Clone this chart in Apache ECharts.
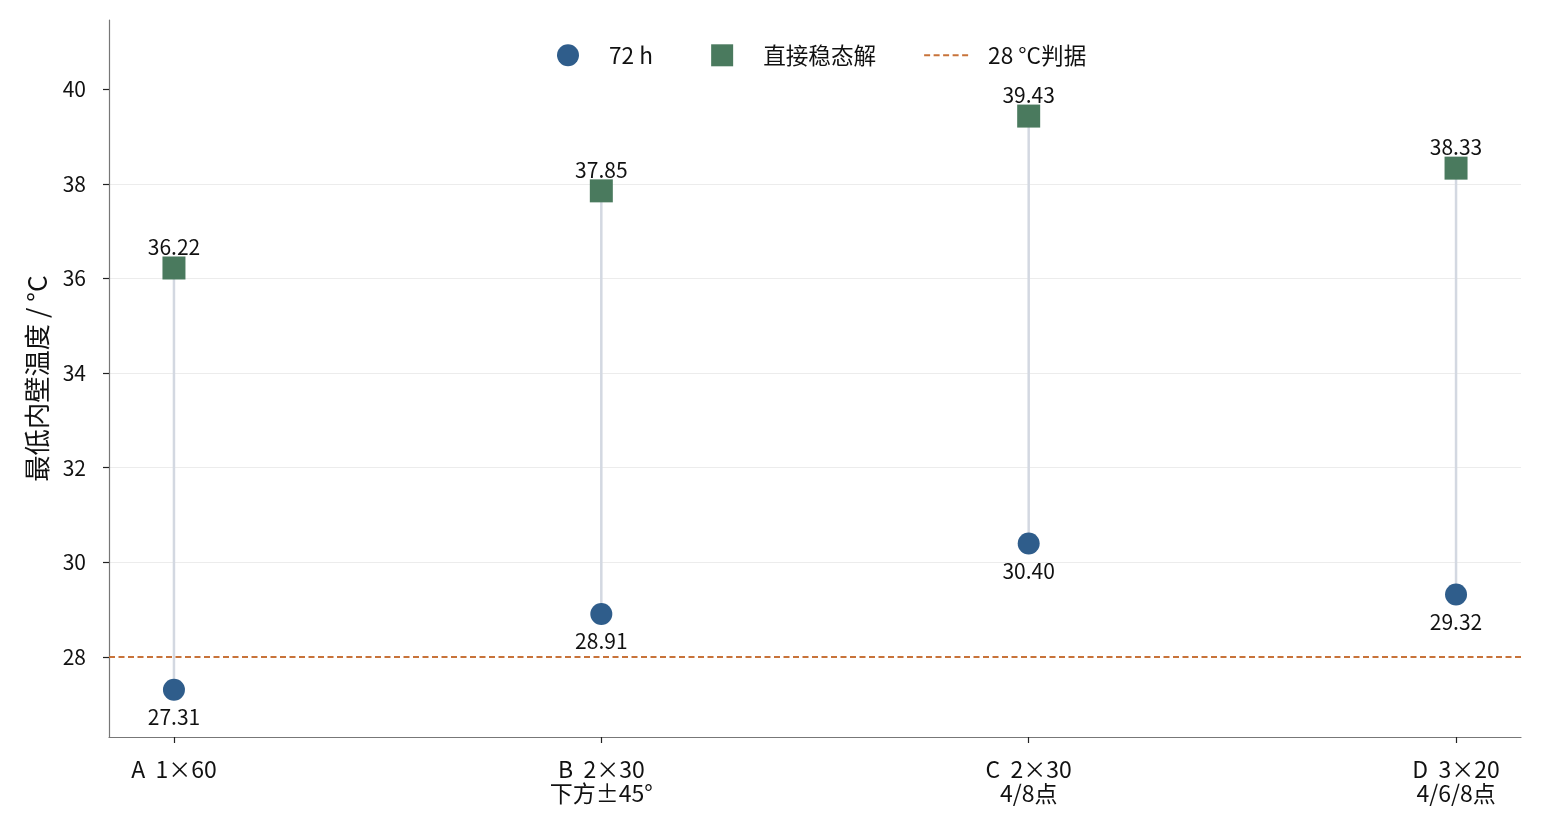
<!DOCTYPE html>
<html lang="zh">
<head>
    <meta charset="UTF-8">
    <title>最低内壁温度</title>
    <script src="https://cdn.jsdelivr.net/npm/echarts@6/dist/echarts.min.js"></script>
    <style>
        body { margin: 0; background: #fff; }
        #chart { width: 1543px; height: 828px; }
    </style>
</head>
<body>
<div id="chart"></div>
<script>
    // 方案与数据
    const categories = ['A  1×60', 'B  2×30\n下方±45°', 'C  2×30\n4/8点', 'D  3×20\n4/6/8点'];
    const temp72h = [27.31, 28.91, 30.40, 29.32];
    const tempSteady = [36.22, 37.85, 39.43, 38.33];
    const threshold = 28;
    const yTicks = [28, 30, 32, 34, 36, 38, 40];

    const font = '"Noto Sans CJK SC", "Noto Sans", sans-serif';
    const idx = categories.map((c, i) => i);

    const chart = echarts.init(document.getElementById('chart'));

    chart.setOption({
        animation: false,
        textStyle: { fontFamily: font },
        grid: { left: 109, right: 22, top: 20, bottom: 91 },
        legend: {
            top: 39,
            left: 552,
            itemWidth: 46,
            itemHeight: 22,
            itemGap: 47,
            symbolKeepAspect: true,
            // 第一项后面留一点额外间距
            formatter: name => (name === '72 h' ? name + '\u2002' : name),
            textStyle: { fontSize: 22.6, color: '#111', padding: [0, 0, 0, 13], fontFamily: font },
            data: [
                { name: '72 h', icon: 'circle' },
                { name: '直接稳态解', icon: 'path://M0,0L10,0L10,10L0,10Z' },
                { name: '28 °C判据', itemStyle: { opacity: 0 } }
            ]
        },
        xAxis: {
            type: 'value',
            min: -0.152,
            max: 3.152,
            splitLine: { show: false },
            axisLine: { onZero: false, lineStyle: { color: '#777', width: 1.2 } },
            axisTick: { customValues: idx, length: 6, lineStyle: { color: '#222', width: 1.2 } },
            axisLabel: {
                customValues: idx,
                formatter: v => categories[Math.round(v)],
                fontSize: 23,
                lineHeight: 24,
                margin: 20,
                color: '#111',
                fontFamily: font
            }
        },
        yAxis: {
            type: 'value',
            min: 26.31,
            max: 41.46,
            name: '最低内壁温度 / °C',
            nameLocation: 'middle',
            nameGap: 59,
            nameTextStyle: { fontSize: 26.3, color: '#111', fontFamily: font },
            axisLine: { show: true, onZero: false, lineStyle: { color: '#777', width: 1.2 } },
            axisTick: { show: true, customValues: yTicks, length: 6, lineStyle: { color: '#222', width: 1.2 } },
            axisLabel: { customValues: yTicks, fontSize: 21, color: '#111', margin: 23, fontFamily: font },
            splitLine: { show: true, showMinLine: false, showMaxLine: false, lineStyle: { color: '#ececec', width: 1 } }
        },
        series: [
            {
                // 连接线
                type: 'custom',
                silent: true,
                z: 1,
                data: idx.map(i => [i, temp72h[i], tempSteady[i]]),
                renderItem: (params, api) => {
                    const p1 = api.coord([api.value(0), api.value(1)]);
                    const p2 = api.coord([api.value(0), api.value(2)]);
                    return {
                        type: 'line',
                        shape: { x1: p1[0], y1: p1[1], x2: p2[0], y2: p2[1] },
                        style: { stroke: '#d3d8e1', lineWidth: 2.5 }
                    };
                }
            },
            {
                name: '72 h',
                type: 'scatter',
                z: 3,
                symbol: 'circle',
                symbolSize: 22,
                itemStyle: { color: '#2f5d8b', opacity: 1 },
                label: {
                    show: true,
                    position: 'bottom',
                    distance: 6,
                    fontSize: 21,
                    color: '#111',
                    fontFamily: font,
                    formatter: p => p.value[1].toFixed(2)
                },
                data: idx.map(i => [i, temp72h[i]])
            },
            {
                name: '直接稳态解',
                type: 'scatter',
                z: 3,
                symbol: 'rect',
                symbolSize: 23,
                itemStyle: { color: '#4a7a5e', opacity: 1 },
                label: {
                    show: true,
                    position: 'top',
                    distance: -1,
                    fontSize: 21,
                    color: '#111',
                    fontFamily: font,
                    formatter: p => p.value[1].toFixed(2)
                },
                data: idx.map(i => [i, tempSteady[i]])
            },
            {
                name: '28 °C判据',
                type: 'line',
                symbol: 'none',
                z: 2,
                lineStyle: { color: '#c8733a', type: [6, 3.5], width: 1.8 },
                itemStyle: { color: '#c8733a' },
                data: [],
                markLine: {
                    silent: true,
                    symbol: 'none',
                    label: { show: false },
                    lineStyle: { color: '#c8733a', type: [6, 3.5], width: 1.8 },
                    data: [{ yAxis: threshold }]
                }
            }
        ]
    });
</script>
</body>
</html>
